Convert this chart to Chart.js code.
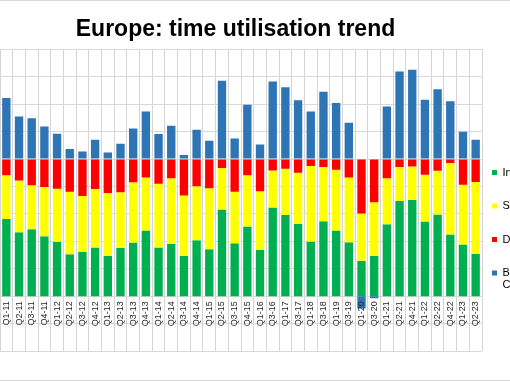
<!DOCTYPE html>
<html>
<head>
<meta charset="utf-8">
<script src="https://cdn.jsdelivr.net/npm/chart.js@4.4.1/dist/chart.umd.min.js"></script>
<style>
  html, body { margin: 0; padding: 0; background: #ffffff; overflow: hidden; width: 510px; height: 382px; }
  #frame { position: absolute; left: -46px; top: 0; width: 561px; height: 379px; border: 1px solid #d9d9d9; background: #fff; }
  canvas { display: block; }
</style>
</head>
<body>
<div id="frame"><canvas id="c" width="561" height="379"></canvas></div>
<script>
// ---- data (percent of time; shares below the zero line are negative) ----
const categories = ["Q1-11","Q2-11","Q3-11","Q4-11","Q1-12","Q2-12","Q3-12","Q4-12","Q1-13","Q2-13",
  "Q3-13","Q4-13","Q1-14","Q2-14","Q3-14","Q4-14","Q1-15","Q2-15","Q3-15","Q4-15",
  "Q1-16","Q3-16","Q1-17","Q3-17","Q1-18","Q3-18","Q1-19","Q3-19","Q1-20","Q3-20",
  "Q1-21","Q2-21","Q4-21","Q1-22","Q2-22","Q4-22","Q1-23","Q2-23"];

const seriesNames = ["In use", "Standby", "Down time", ["Buffer", "Capacity"]];

const inUse = [-56.3,-46.6,-48.8,-43.7,-39.6,-30.6,-32.3,-35.4,-29.4,-35.2,
  -39.1,-47.8,-35.4,-38.1,-29.4,-40.8,-34.2,-63.1,-38.6,-50.7,
  -33.8,-64.6,-59.2,-52.7,-39.8,-54.6,-47.8,-39.3,-25.8,-29.4,
  -52.4,-69.4,-70.2,-54.4,-59.5,-44.9,-37.6,-30.9];

const standby = [-31.8,-37.8,-32.0,-35.9,-38.8,-45.6,-40.8,-42.8,-45.9,-40.5,
  -43.9,-38.8,-46.6,-47.8,-43.9,-39.3,-44.4,-30.3,-37.6,-37.4,
  -42.6,-27.1,-33.7,-37.3,-55.1,-39.6,-44.4,-47.3,-34.4,-39.0,
  -33.5,-24.8,-24.4,-34.2,-32.0,-52.2,-43.7,-52.4];

const downTime = [-11.9,-15.6,-19.2,-20.4,-21.6,-23.8,-26.9,-21.8,-24.7,-24.3,
  -17.0,-13.4,-18.0,-14.1,-26.7,-19.9,-21.4,-6.6,-23.8,-11.9,
  -23.6,-8.3,-7.1,-10.0,-5.1,-5.8,-7.8,-13.4,-39.8,-31.6,
  -14.1,-5.8,-5.4,-11.4,-8.5,-2.9,-18.7,-16.7];

const buffer = [44.4,31.0,29.8,23.7,18.4,7.3,5.5,14.0,4.8,11.1,
  22.3,34.6,18.2,24.2,2.9,21.3,13.3,57.0,15.0,39.5,
  10.6,56.5,52.4,42.9,34.6,49.0,40.8,26.4,-9.0,-1.5,
  38.3,63.8,65.0,43.2,50.9,42.2,19.9,14.0];

const yTicks = { min: -140, max: 80, step: 20 };

const colors = { inUse: "#00b050", standby: "#ffff00", downTime: "#ff0000", buffer: "#2e75b6" };
const FONT = "'Liberation Sans', Arial, Helvetica, sans-serif";

// legend order: In use, Standby, Down time, Buffer Capacity
const legendOrder = [2, 1, 0, 3];

new Chart(document.getElementById("c"), {
  type: "bar",
  data: {
    labels: categories,
    datasets: [
      { label: "Down time", data: downTime, backgroundColor: colors.downTime, legendName: seriesNames[2] },
      { label: "Standby", data: standby, backgroundColor: colors.standby, legendName: seriesNames[1] },
      { label: "In use", data: inUse, backgroundColor: colors.inUse, legendName: seriesNames[0] },
      { label: "Buffer Capacity", data: buffer, backgroundColor: colors.buffer, legendName: seriesNames[3] }
    ]
  },
  options: {
    responsive: false,
    animation: false,
    devicePixelRatio: 1,
    datasets: { bar: { barPercentage: 0.66, categoryPercentage: 1.0, borderWidth: 0 } },
    layout: { padding: { top: 0, bottom: 29, left: 0, right: 0 } },
    plugins: {
      tooltip: { enabled: false },
      title: {
        display: true,
        text: "Europe: time utilisation trend",
        color: "#000000",
        font: { family: FONT, size: 23, weight: "bold" },
        padding: { top: 14.5, bottom: 6.2 }
      },
      legend: {
        position: "right",
        align: "start",
        maxWidth: 34,
        title: { display: true, text: "", font: { size: 10 }, padding: { top: 144, bottom: 0 } },
        labels: {
          boxWidth: 5,
          boxHeight: 5,
          padding: 10,
          color: "#000000",
          font: { family: FONT, size: 11, lineHeight: 1.068 },
          generateLabels(chart) {
            const items = Chart.defaults.plugins.legend.labels.generateLabels(chart);
            items.forEach(it => {
              const name = chart.data.datasets[it.datasetIndex].legendName;
              it.text = Array.isArray(name) ? name : [name, ""];
            });
            items.sort((a, b) => legendOrder.indexOf(a.datasetIndex) - legendOrder.indexOf(b.datasetIndex));
            return items;
          }
        }
      }
    },
    scales: {
      x: {
        stacked: true,
        position: { y: -100 },
        grid: { offset: true, color: "#d4d4d4", lineWidth: 1, drawTicks: false },
        border: { display: false },
        ticks: {
          autoSkip: false,
          maxRotation: 90,
          minRotation: 90,
          padding: 5,
          z: 1,
          color: "#262626",
          font: { family: FONT, size: 9 }
        }
      },
      y: {
        stacked: true,
        position: "left",
        min: yTicks.min,
        max: yTicks.max,
        grid: { color: "#d9d9d9", lineWidth: 1, drawTicks: false },
        border: { display: false },
        ticks: { display: false, stepSize: yTicks.step },
        afterFit(scale) { scale.width = 45; }
      }
    }
  }
});
</script>
</body>
</html>
